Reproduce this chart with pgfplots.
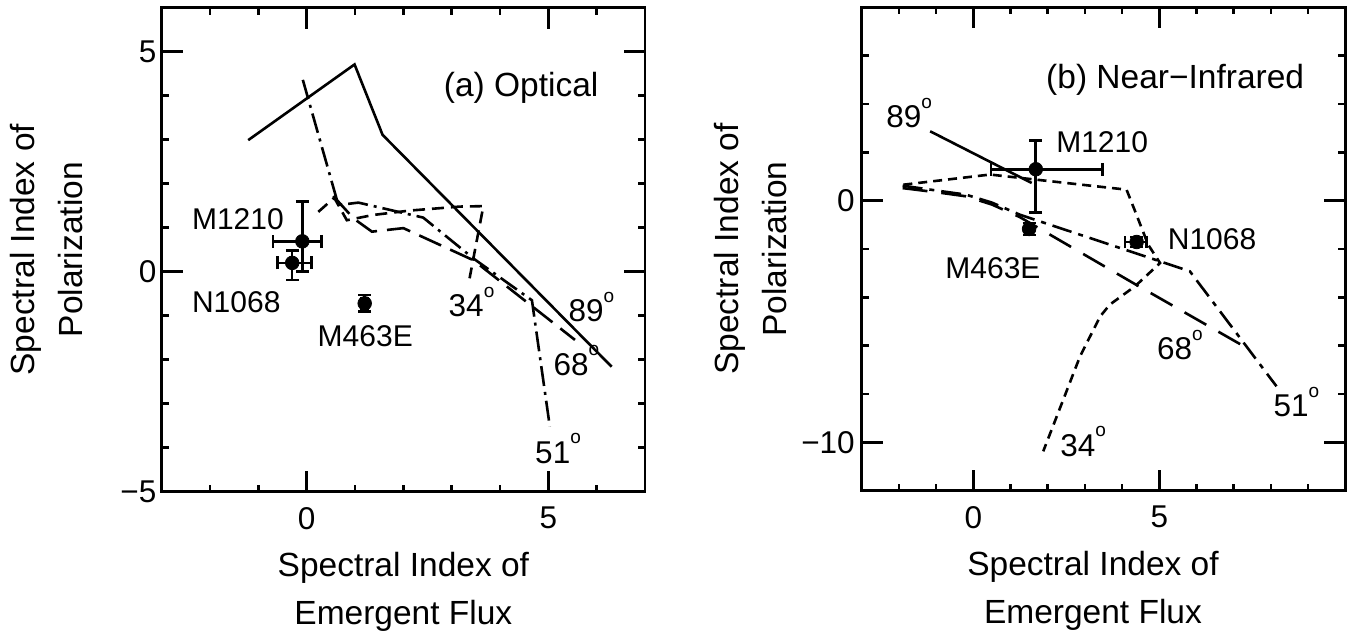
\documentclass[border=0pt]{standalone}
\usepackage{fontspec}
\setmainfont{Liberation Sans}
\usepackage{pgfplots}
\pgfplotsset{compat=1.18}

% superscript "o" used for the inclination angles
\newcommand\dg{\raisebox{0.62em}{\fontsize{9.5}{9.5}\selectfont o}}
\newcommand\lblfont{\fontsize{15}{18}\selectfont}
\newcommand\angfont{\fontsize{15.75}{18}\selectfont}
\newcommand\bigfont{\fontsize{16.75}{24}\selectfont}

\pgfplotsset{
  panel/.style={
    scale only axis, clip=false,
    axis line style={line width=1.3pt},
    tick align=inside,
    major tick length=10.5pt,
    minor tick length=3.5pt,
    tick style={line width=1.3pt, black},
    minor tick style={line width=1.3pt, black},
    tick label style={font=\fontsize{15.75}{18}\selectfont},
    xticklabel style={anchor=north, inner sep=0pt, yshift=-7.5pt},
    label style={font=\bigfont, align=center, inner sep=0pt},
    xlabel style={at={(axis description cs:0.5,0)}, anchor=north, yshift=-30pt},
  },
  obs/.style={black, only marks, mark=*, mark size=3.4pt,
    error bars/.cd, x dir=both, x explicit, y dir=both, y explicit,
    error bar style={line width=1.3pt, black},
    error mark options={rotate=90, black, mark size=3.2pt, line width=1.3pt}},
  a89/.style={black, line width=1.3pt},
}

\begin{document}
\begin{tikzpicture}

% ---------------- (a) Optical ----------------
\begin{axis}[panel, at={(0pt,0pt)}, anchor=south west,
  width=241.67pt, height=242pt,
  xmin=-3, xmax=7, ymin=-5, ymax=6,
  xtick={0,5}, xticklabels={0,5}, minor xtick={-2,-1,1,2,3,4,6},
  ytick={-5,0,5}, yticklabels={−5,0,5}, minor ytick={-4,-3,-2,-1,1,2,3,4},
  yticklabel style={anchor=east, inner sep=0pt, xshift=-2.5pt},
  xlabel={Spectral Index of\\Emergent Flux},
  ylabel={Spectral Index of\\Polarization},
  ylabel style={at={(axis description cs:-0.314,0.5)}, anchor=north},
]
% 89 deg
\addplot[a89] coordinates {(-1.21,2.99) (0.99,4.71) (1.57,3.11) (6.31,-2.16)};
% 68 deg
\addplot[black, line width=1.3pt, dash pattern=on 12pt off 5pt]
  coordinates {(0.55,1.72) (0.97,1.21) (1.35,0.91) (2.0,0.99) (3.45,0.26) (5.55,-1.55)};
% 51 deg
\addplot[black, line width=1.3pt, dash pattern=on 10pt off 3pt on 1.5pt off 3pt]
  coordinates {(-0.08,4.36) (0.655,1.515) (1.07,1.57) (2.41,1.23) (3.45,0.30) (4.66,-0.65) (5.03,-3.52)};
% 34 deg
\addplot[black, line width=1.3pt, dash pattern=on 6pt off 3.5pt]
  coordinates {(0.24,1.36) (0.57,1.68) (0.83,1.17) (1.38,1.29) (2.14,1.39) (3.17,1.48) (3.655,1.49) (3.37,-0.15)};
% observed galaxies
\addplot[obs] coordinates {(-0.09,0.69) += (0.40,0.90) -= (0.61,0.69)};
\addplot[obs] coordinates {(-0.30,0.20) += (0.40,0.28) -= (0.31,0.39)};
\addplot[obs] coordinates {(1.20,-0.72) +- (0.06,0.19)};

\node[anchor=base west, inner sep=0pt, font=\bigfont] at (axis cs:2.83,3.99) {(a) Optical};
\node[anchor=base west, inner sep=0pt, font=\lblfont] at (axis cs:-2.38,0.95) {M1210};
\node[anchor=base west, inner sep=0pt, font=\lblfont] at (axis cs:-2.38,-0.93) {N1068};
\node[anchor=base west, inner sep=0pt, font=\lblfont] at (axis cs:0.22,-1.70) {M463E};
\node[anchor=base west, inner sep=0pt, font=\angfont] at (axis cs:2.93,-1.02) {34\dg};
\node[anchor=base west, inner sep=0pt, font=\angfont] at (axis cs:5.41,-1.14) {89\dg};
\node[anchor=base west, inner sep=0pt, font=\angfont] at (axis cs:5.10,-2.35) {68\dg};
\node[anchor=base west, inner sep=0pt, font=\angfont] at (axis cs:4.72,-4.35) {51\dg};
\end{axis}

% ---------------- (b) Near-Infrared ----------------
\begin{axis}[panel, at={(350pt,0.5pt)}, anchor=south west,
  width=241.8pt, height=241.7pt,
  xmin=-3, xmax=10, ymin=-12, ymax=8,
  xtick={0,5}, xticklabels={0,5}, minor xtick={-2,-1,1,2,3,4,6,7,8,9},
  ytick={-10,0}, yticklabels={−10,0}, minor ytick={-8,-6,-4,-2,2,4,6},
  yticklabel style={anchor=east, inner sep=0pt, xshift=-3.3pt},
  xlabel={Spectral Index of\\Emergent Flux},
  xlabel style={xshift=-5.25pt},
  ylabel={Spectral Index of\\Polarization},
  ylabel style={at={(axis description cs:-0.305,0.5)}, anchor=north},
]
% 89 deg
\addplot[a89] coordinates {(-1.16,2.87) (1.57,0.73)};
% 68 deg
\addplot[black, line width=1.3pt, dash pattern=on 12.5pt off 7pt]
  coordinates {(-1.9,0.52) (-0.9,0.33) (-0.2,0.18) (0.5,-0.16) (1.25,-0.68) (4.3,-3.41) (7.44,-6.17)};
% 51 deg
\addplot[black, line width=1.3pt, dash pattern=on 10pt off 3.5pt on 2.5pt off 3.5pt]
  coordinates {(-1.9,0.62) (-0.9,0.40) (-0.2,0.25) (0.5,-0.08) (1.25,-0.58) (5.82,-2.92) (8.15,-7.68)};
% 34 deg
\addplot[black, line width=1.3pt, dash pattern=on 4.5pt off 3pt]
  coordinates {(-1.88,0.66) (0.45,1.08) (4.12,0.455) (4.35,-0.44) (4.70,-1.82) (5.02,-2.58)
               (4.35,-3.54) (3.67,-4.30) (3.41,-4.79) (2.87,-6.44) (1.88,-10.37)};
% observed galaxies
\addplot[obs] coordinates {(1.68,1.30) += (1.80,1.20) -= (1.20,1.78)};
\addplot[obs] coordinates {(1.50,-1.17) +- (0.10,0.25)};
\addplot[obs] coordinates {(4.39,-1.71) += (0.27,0.20) -= (0.31,0.20)};

\node[anchor=base west, inner sep=0pt, font=\bigfont] at (axis cs:1.95,4.62) {(b) Near−Infrared};
\node[anchor=base west, inner sep=0pt, font=\lblfont] at (axis cs:2.22,2.0) {M1210};
\node[anchor=base west, inner sep=0pt, font=\lblfont] at (axis cs:5.22,-2.03) {N1068};
\node[anchor=base west, inner sep=0pt, font=\lblfont] at (axis cs:-0.76,-3.20) {M463E};
\node[anchor=base west, inner sep=0pt, font=\angfont] at (axis cs:-2.35,3.01) {89\dg};
\node[anchor=base west, inner sep=0pt, font=\angfont] at (axis cs:4.93,-6.58) {68\dg};
\node[anchor=base west, inner sep=0pt, font=\angfont] at (axis cs:8.06,-8.95) {51\dg};
\node[anchor=base west, inner sep=0pt, font=\angfont] at (axis cs:2.33,-10.58) {34\dg};
\end{axis}

\pgfresetboundingbox
\useasboundingbox (-80.85pt,-70.15pt) rectangle (594.65pt,245.85pt);
\end{tikzpicture}
\end{document}
